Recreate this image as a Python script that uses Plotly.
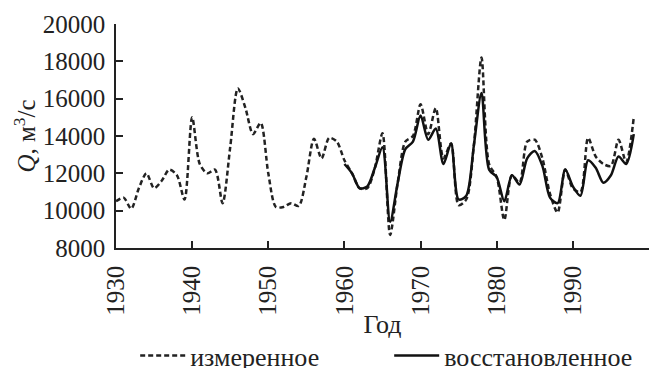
import plotly.graph_objects as go

years_measured = list(range(1930, 1999))
q_measured = [10500, 10700, 10100, 11200, 12000, 11200, 11600, 12200, 11900, 10600,
              15000, 12500, 12000, 12200, 10400, 13400, 16550, 15500, 14100, 14700,
              12000, 10200, 10200, 10400, 10250, 11800, 13850, 12800, 13900, 13700,
              12700, 12000, 11200, 11200, 12300, 14150, 8700, 11500, 13700, 14000,
              15700, 14100, 15500, 12800, 13600, 10300, 10600, 13500, 18200, 12500,
              11800, 9500, 11900, 11500, 13700, 13800, 12800, 10900, 9900, 12200,
              11200, 11000, 13900, 12900, 12500, 12400, 13800, 12600, 15000]

years_restored = list(range(1960, 1999))
q_restored = [12500, 12000, 11200, 11300, 12300, 13400, 9400, 11500, 13300, 13700,
              15100, 13800, 14400, 12500, 13600, 10600, 10800, 13500, 16300, 12200,
              11800, 10500, 11900, 11400, 12800, 13200, 12400, 10700, 10400, 12200,
              11300, 10800, 12700, 12300, 11500, 11900, 12900, 12500, 14100]

x_ticks = [1930, 1940, 1950, 1960, 1970, 1980, 1990, 2000]
y_ticks = [8000, 10000, 12000, 14000, 16000, 18000, 20000]

FONT = "Liberation Serif"
INK = "#222222"

fig = go.Figure()
fig.add_trace(go.Scatter(
    x=years_measured, y=q_measured, mode="lines", name="измеренное",
    line=dict(color=INK, width=2.5, dash="5px,3px", shape="spline", smoothing=0.8),
))
fig.add_trace(go.Scatter(
    x=years_restored, y=q_restored, mode="lines", name="восстановленное",
    line=dict(color="#111111", width=2.5, shape="spline", smoothing=0.8),
))

# page body adds an 8px offset, so the figure is 649x360 with margins shifted by 8px
fig.update_layout(
    width=649, height=360,
    margin=dict(l=108, r=8, t=16, b=120, autoexpand=False),
    paper_bgcolor="white", plot_bgcolor="white",
    font=dict(family=FONT, size=25, color=INK),
    showlegend=True,
    legend=dict(orientation="h", x=0.036, xanchor="left", y=-0.48, yanchor="middle",
                entrywidth=194, entrywidthmode="pixels", itemwidth=45,
                font=dict(family=FONT, size=26, color=INK),
                bgcolor="rgba(0,0,0,0)"),
    xaxis=dict(range=[1930, 2000], tickvals=x_ticks, ticktext=[str(v) for v in x_ticks],
               tickangle=-90, ticks="inside", ticklen=7, tickwidth=1.5, tickcolor=INK,
               ticklabelstandoff=6,
               showline=True, linecolor=INK, linewidth=1.5, showgrid=False, zeroline=False,
               title=dict(text="Год", font=dict(family=FONT, size=26, color=INK), standoff=0),
               tickfont=dict(family=FONT, size=25, color=INK)),
    yaxis=dict(range=[8000, 20000], tickvals=y_ticks, ticktext=[str(v) for v in y_ticks],
               ticks="inside", ticklen=7, tickwidth=1.5, tickcolor=INK,
               ticklabelstandoff=4,
               showline=True, linecolor=INK, linewidth=1.5, showgrid=False, zeroline=False,
               title=dict(text="<i>Q</i>, м<sup>3</sup>/с", font=dict(family=FONT, size=25, color=INK), standoff=0),
               tickfont=dict(family=FONT, size=25, color=INK)),
)

fig.write_html("out.html")
